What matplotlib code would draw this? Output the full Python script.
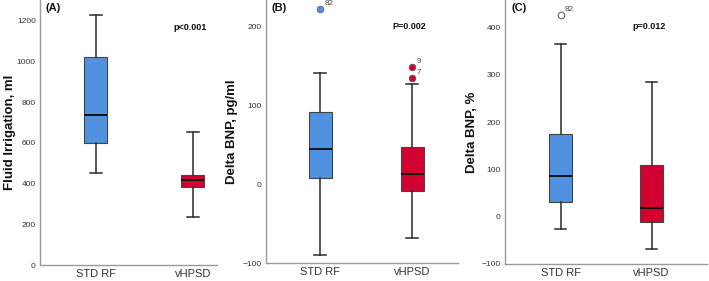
import matplotlib
matplotlib.use("Agg")
import matplotlib.pyplot as plt
import matplotlib.transforms as mtransforms

plt.rcParams['font.family'] = ['Liberation Sans', 'DejaVu Sans']

groups = ["STD RF", "vHPSD"]
box_colors = ["#5092e0", "#d2002f"]

# (A) fluid irrigation, ml: whislo, q1, med, q3, whishi
fluid_std = [452, 600, 738, 1021, 1228]
fluid_vhpsd = [236, 384, 420, 442, 654]

# (B) delta BNP, pg/ml
bnp_std = [-89, 8, 45, 92, 142]
bnp_vhpsd = [-68, -8, 13, 48, 128]
bnp_std_out = [222]
bnp_std_out_id = ["82"]
bnp_vhpsd_out = [149, 135]
bnp_vhpsd_out_id = ["9", "7"]

# (C) delta BNP, %
pct_std = [-25, 31, 86, 175, 364]
pct_vhpsd = [-69, -11, 18, 110, 284]
pct_std_out = [427]
pct_std_out_id = ["82"]

panels = [
    dict(tag="(A)", ylabel="Fluid Irrigation, ml", p="p<0.001",
         data=[fluid_std, fluid_vhpsd], out=[[], []], ids=[[], []],
         ylim=(0, 1302), yticks=[0, 200, 400, 600, 800, 1000, 1200],
         xlim=(0.426, 2.25), width=0.24, filled=True,
         pos=[40, 265, 217], labx=-0.136),
    dict(tag="(B)", ylabel="Delta BNP, pg/ml", p="P=0.002",
         data=[bnp_std, bnp_vhpsd], out=[bnp_std_out, bnp_vhpsd_out],
         ids=[bnp_std_out_id, bnp_vhpsd_out_id],
         ylim=(-100, 234), yticks=[-100, 0, 100, 200],
         xlim=(0.413, 2.5), width=0.25, filled=True,
         pos=[266, 263.3, 458], labx=-0.148),
    dict(tag="(C)", ylabel="Delta BNP, %", p="p=0.012",
         data=[pct_std, pct_vhpsd], out=[pct_std_out, []],
         ids=[pct_std_out_id, []],
         ylim=(-100, 458), yticks=[-100, 0, 100, 200, 300, 400],
         xlim=(0.388, 2.61), width=0.25, filled=False,
         pos=[505, 264, 707], labx=-0.135),
]

W, H = 709, 281
fig = plt.figure(figsize=(W / 100, H / 100), dpi=100)

for pn in panels:
    left, bottom, right = pn["pos"]
    ax = fig.add_axes([left / W, (H - bottom) / H, (right - left) / W, bottom / H])
    stats = []
    for g, d, o in zip(groups, pn["data"], pn["out"]):
        stats.append(dict(label=g, whislo=d[0], q1=d[1], med=d[2], q3=d[3],
                          whishi=d[4], fliers=o))
    bp = ax.bxp(stats, positions=[1, 2], widths=pn["width"], patch_artist=True,
                showfliers=True,
                boxprops=dict(edgecolor="#444444", linewidth=0.8),
                medianprops=dict(color="#111111", linewidth=1.4),
                whiskerprops=dict(color="#2a2a2a", linewidth=1.1),
                capprops=dict(color="#2a2a2a", linewidth=1.1),
                capwidths=pn["width"] * 0.5)
    for patch, c in zip(bp["boxes"], box_colors):
        patch.set_facecolor(c)
    for fl, c in zip(bp["fliers"], box_colors):
        if pn["filled"]:
            fl.set(marker="o", markersize=4.8, markerfacecolor=c,
                   markeredgecolor="#555555", markeredgewidth=0.5)
        else:
            fl.set(marker="o", markersize=4.8, markerfacecolor="white",
                   markeredgecolor="#666666", markeredgewidth=0.8)
    for x, vals, ids in zip([1, 2], pn["out"], pn["ids"]):
        for v, t in zip(vals, ids):
            ax.annotate(t, (x, v), xytext=(3, 1.5), textcoords="offset points",
                        fontsize=5.8, color="#444444", va="bottom", ha="left")

    ax.set_xlim(*pn["xlim"])
    ax.set_ylim(*pn["ylim"])
    ax.set_yticks(pn["yticks"])
    ax.set_xticks([1, 2])
    ax.set_xticklabels(groups)
    ax.tick_params(axis="y", length=0, labelsize=6, labelcolor="#333333", pad=3)
    ax.tick_params(axis="x", length=0, labelsize=8, labelcolor="#333333", pad=3)
    for s in ["top", "right"]:
        ax.spines[s].set_visible(False)
    for s in ["left", "bottom"]:
        ax.spines[s].set_color("#9a9a9a")
        ax.spines[s].set_linewidth(1.0)
    ax.set_ylabel(pn["ylabel"], fontsize=9.5, fontweight="bold", color="#111111")
    ax.yaxis.set_label_coords(pn["labx"], 0.5)
    ax.text(0.03, 0.97, pn["tag"], transform=ax.transAxes, fontsize=8,
            fontweight="bold", va="center", ha="left", color="#111111")
    trans = mtransforms.blended_transform_factory(ax.transData, ax.transAxes)
    ax.text(1.97, 0.898, pn["p"], transform=trans, fontsize=6.5,
            fontweight="bold", ha="center", va="center", color="#111111")

fig.savefig("out.png", dpi=100)
